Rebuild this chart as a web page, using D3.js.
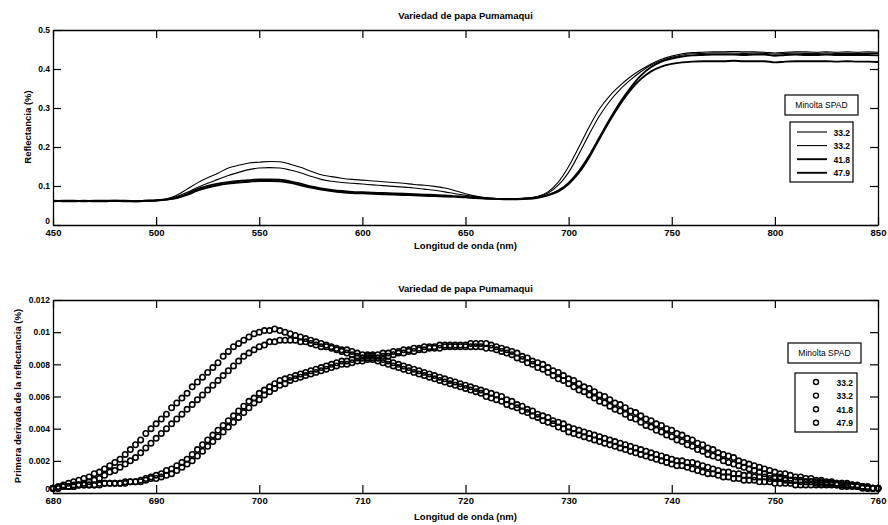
<!DOCTYPE html>
<html>
<head>
<meta charset="utf-8">
<script src="https://cdn.jsdelivr.net/npm/d3@7"></script>
<style>
  body { margin: 0; background: #fff; }
  text { font-family: "Liberation Sans", Arial, sans-serif; fill: #000; }
</style>
</head>
<body>
<svg id="chart" width="888" height="525"></svg>
<script>
// ---------- data ----------
const chartTitle = "Variedad de papa Pumamaqui";
const legendTitle = "Minolta SPAD";
const spadLabels = ["33.2", "33.2", "41.8", "47.9"];

// Reflectance spectra, 450–850 nm every 5 nm
const reflWavelengths = d3.range(450, 851, 5);
const refl332a = [
  0.062,0.061,0.062,0.061,0.061,0.062,0.061,0.062,0.062,0.063,
  0.064,0.067,0.076,0.092,0.108,0.121,0.133,0.146,0.153,0.159,
  0.161,0.163,0.162,0.156,0.148,0.138,0.129,0.124,0.120,0.117,
  0.115,0.113,0.111,0.109,0.107,0.104,0.102,0.099,0.095,0.088,
  0.080,0.074,0.070,0.068,0.067,0.067,0.069,0.073,0.085,0.110,
  0.150,0.200,0.252,0.298,0.332,0.358,0.380,0.398,0.413,0.425,
  0.433,0.439,0.442,0.443,
  0.444,0.444,0.445,0.444,0.444,0.443,0.441,0.443,0.444,0.444,0.443,0.444,0.443,0.444,0.443,0.444,0.443
];
const refl332b = [
  0.062,0.062,0.061,0.062,0.062,0.061,0.062,0.061,0.062,0.062,
  0.063,0.066,0.073,0.084,0.096,0.107,0.117,0.127,0.135,0.142,
  0.146,0.147,0.146,0.141,0.134,0.125,0.117,0.112,0.109,0.107,
  0.105,0.103,0.101,0.099,0.097,0.095,0.092,0.089,0.085,0.080,
  0.076,0.073,0.070,0.068,0.067,0.067,0.069,0.073,0.082,0.102,
  0.135,0.182,0.233,0.280,0.318,0.348,0.372,0.393,0.410,0.422,
  0.430,0.436,0.439,0.440,
  0.441,0.441,0.441,0.440,0.441,0.440,0.438,0.440,0.441,0.440,0.440,0.441,0.440,0.440,0.440,0.440,0.440
];
const refl418 = [
  0.061,0.062,0.062,0.061,0.062,0.062,0.062,0.061,0.061,0.062,
  0.063,0.065,0.070,0.080,0.092,0.100,0.106,0.110,0.113,0.115,
  0.117,0.117,0.116,0.112,0.106,0.099,0.094,0.090,0.087,0.085,
  0.084,0.083,0.082,0.081,0.080,0.079,0.078,0.077,0.076,0.074,
  0.072,0.070,0.068,0.067,0.067,0.067,0.068,0.071,0.077,0.088,
  0.108,0.138,0.178,0.225,0.272,0.315,0.352,0.383,0.405,0.419,
  0.427,0.432,0.435,0.436,
  0.437,0.437,0.437,0.436,0.437,0.437,0.434,0.436,0.437,0.436,0.436,0.437,0.436,0.436,0.436,0.436,0.435
];
const refl479 = [
  0.062,0.061,0.061,0.062,0.061,0.061,0.062,0.062,0.061,0.062,
  0.063,0.065,0.069,0.077,0.088,0.096,0.102,0.106,0.109,0.111,
  0.113,0.113,0.112,0.108,0.102,0.096,0.091,0.087,0.084,0.082,
  0.081,0.080,0.079,0.078,0.077,0.076,0.075,0.074,0.073,0.072,
  0.071,0.069,0.068,0.067,0.066,0.066,0.067,0.070,0.076,0.086,
  0.105,0.134,0.174,0.222,0.268,0.310,0.346,0.374,0.394,0.406,
  0.413,0.417,0.419,0.420,
  0.420,0.420,0.421,0.420,0.420,0.420,0.417,0.419,0.420,0.420,0.420,0.420,0.419,0.420,0.419,0.419,0.418
];

// First derivative of reflectance, 680–760 nm every 0.5 nm
const derivWavelengths = d3.range(680, 760.01, 0.5);
const deriv332a = [
  0.0003,0.0004,0.0005,0.0006,0.0007,0.0008,0.0009,0.0010,0.0012,0.0013,
  0.0015,0.0017,0.0019,0.0021,0.0024,0.0027,0.0030,0.0033,0.0037,0.0040,
  0.0043,0.0046,0.0049,0.0053,0.0056,0.0059,0.0062,0.0066,0.0069,0.0072,
  0.0075,0.0078,0.0081,0.0085,0.0088,0.0091,0.0093,0.0095,0.0097,0.0099,
  0.0100,0.0101,0.0101,0.0102,0.0101,0.0100,0.0099,0.0098,0.0097,0.0096,
  0.0095,0.0094,0.0093,0.0092,0.0091,0.0090,0.0089,0.0089,0.0088,0.0087,
  0.0086,0.0086,0.0085,0.0084,0.0083,0.0082,0.0081,0.0080,0.0079,0.0078,
  0.0077,0.0076,0.0075,0.0074,0.0073,0.0072,0.0071,0.0070,0.0069,0.0068,
  0.0067,0.0066,0.0065,0.0064,0.0063,0.0062,0.0061,0.0060,0.0058,0.0057,
  0.0055,0.0054,0.0052,0.0051,0.0049,0.0048,0.0047,0.0045,0.0044,0.0043,
  0.0041,0.0040,0.0039,0.0038,0.0037,0.0036,0.0035,0.0034,0.0033,0.0032,
  0.0031,0.0030,0.0029,0.0028,0.0027,0.0026,0.0025,0.0024,0.0023,0.0022,
  0.0021,0.0020,0.0020,0.0019,0.0019,0.0018,0.0017,0.0016,0.0015,0.0014,
  0.0013,0.0013,0.0012,0.0012,0.0011,0.0011,0.0010,0.0010,0.0010,0.0009,
  0.0009,0.0009,0.0008,0.0008,0.0008,0.0008,0.0007,0.0007,0.0007,0.0007,
  0.0006,0.0006,0.0006,0.0006,0.0005,0.0005,0.0004,0.0004,0.0003,0.0003,
  0.0003
];
const deriv332b = [
  0.0003,0.0003,0.0004,0.0004,0.0005,0.0005,0.0006,0.0007,0.0008,0.0009,
  0.0011,0.0013,0.0014,0.0016,0.0018,0.0020,0.0022,0.0025,0.0028,0.0031,
  0.0034,0.0037,0.0040,0.0043,0.0046,0.0049,0.0052,0.0055,0.0058,0.0061,
  0.0064,0.0067,0.0070,0.0073,0.0076,0.0079,0.0082,0.0085,0.0087,0.0089,
  0.0091,0.0092,0.0094,0.0094,0.0095,0.0095,0.0095,0.0095,0.0094,0.0094,
  0.0093,0.0092,0.0091,0.0091,0.0090,0.0089,0.0088,0.0087,0.0086,0.0085,
  0.0084,0.0084,0.0083,0.0082,0.0081,0.0080,0.0079,0.0078,0.0077,0.0076,
  0.0075,0.0074,0.0073,0.0072,0.0071,0.0070,0.0069,0.0068,0.0067,0.0066,
  0.0065,0.0064,0.0063,0.0062,0.0060,0.0059,0.0058,0.0057,0.0055,0.0054,
  0.0053,0.0051,0.0050,0.0048,0.0047,0.0045,0.0044,0.0043,0.0041,0.0040,
  0.0038,0.0037,0.0036,0.0035,0.0034,0.0033,0.0032,0.0031,0.0030,0.0029,
  0.0028,0.0027,0.0026,0.0025,0.0024,0.0023,0.0022,0.0021,0.0020,0.0019,
  0.0018,0.0017,0.0017,0.0016,0.0015,0.0014,0.0013,0.0012,0.0012,0.0011,
  0.0010,0.0010,0.0009,0.0009,0.0008,0.0008,0.0008,0.0007,0.0007,0.0007,
  0.0006,0.0006,0.0006,0.0006,0.0005,0.0005,0.0005,0.0005,0.0005,0.0005,
  0.0005,0.0005,0.0005,0.0004,0.0004,0.0004,0.0004,0.0003,0.0003,0.0003,
  0.0003
];
const deriv418 = [
  0.0003,0.0003,0.0004,0.0004,0.0004,0.0005,0.0005,0.0005,0.0005,0.0006,
  0.0006,0.0006,0.0006,0.0006,0.0007,0.0007,0.0007,0.0008,0.0009,0.0010,
  0.0011,0.0012,0.0014,0.0015,0.0017,0.0019,0.0021,0.0024,0.0027,0.0030,
  0.0033,0.0036,0.0039,0.0042,0.0045,0.0048,0.0051,0.0054,0.0057,0.0059,
  0.0062,0.0064,0.0066,0.0068,0.0070,0.0071,0.0072,0.0073,0.0074,0.0075,
  0.0076,0.0077,0.0078,0.0079,0.0080,0.0081,0.0082,0.0082,0.0083,0.0084,
  0.0084,0.0085,0.0086,0.0086,0.0087,0.0087,0.0088,0.0088,0.0089,0.0089,
  0.0090,0.0090,0.0091,0.0091,0.0091,0.0092,0.0092,0.0092,0.0092,0.0092,
  0.0092,0.0093,0.0093,0.0093,0.0093,0.0092,0.0091,0.0090,0.0089,0.0088,
  0.0087,0.0085,0.0084,0.0082,0.0081,0.0080,0.0078,0.0076,0.0075,0.0073,
  0.0071,0.0070,0.0068,0.0066,0.0065,0.0063,0.0061,0.0060,0.0058,0.0056,
  0.0055,0.0053,0.0051,0.0050,0.0048,0.0046,0.0045,0.0043,0.0042,0.0040,
  0.0039,0.0037,0.0036,0.0034,0.0033,0.0031,0.0030,0.0028,0.0027,0.0025,
  0.0024,0.0023,0.0022,0.0020,0.0019,0.0018,0.0017,0.0016,0.0015,0.0014,
  0.0013,0.0012,0.0012,0.0011,0.0010,0.0010,0.0009,0.0009,0.0008,0.0008,
  0.0007,0.0007,0.0006,0.0006,0.0006,0.0005,0.0005,0.0004,0.0004,0.0003,
  0.0003
];
const deriv479 = [
  0.0003,0.0003,0.0004,0.0004,0.0004,0.0005,0.0005,0.0005,0.0005,0.0005,
  0.0006,0.0006,0.0006,0.0006,0.0006,0.0007,0.0007,0.0007,0.0008,0.0009,
  0.0009,0.0010,0.0011,0.0012,0.0014,0.0016,0.0018,0.0020,0.0023,0.0026,
  0.0029,0.0032,0.0035,0.0038,0.0041,0.0044,0.0047,0.0050,0.0053,0.0056,
  0.0058,0.0061,0.0063,0.0065,0.0067,0.0068,0.0070,0.0071,0.0072,0.0073,
  0.0074,0.0075,0.0076,0.0077,0.0078,0.0079,0.0080,0.0080,0.0081,0.0082,
  0.0082,0.0083,0.0084,0.0084,0.0085,0.0085,0.0086,0.0087,0.0087,0.0088,
  0.0088,0.0089,0.0089,0.0090,0.0090,0.0090,0.0091,0.0091,0.0091,0.0091,
  0.0091,0.0091,0.0091,0.0091,0.0090,0.0090,0.0089,0.0088,0.0087,0.0086,
  0.0084,0.0083,0.0081,0.0080,0.0078,0.0077,0.0075,0.0073,0.0071,0.0070,
  0.0068,0.0066,0.0064,0.0063,0.0061,0.0059,0.0057,0.0056,0.0054,0.0052,
  0.0051,0.0049,0.0047,0.0046,0.0044,0.0042,0.0041,0.0039,0.0038,0.0036,
  0.0035,0.0033,0.0032,0.0030,0.0029,0.0027,0.0026,0.0024,0.0023,0.0022,
  0.0020,0.0019,0.0018,0.0017,0.0016,0.0015,0.0014,0.0013,0.0012,0.0011,
  0.0010,0.0010,0.0009,0.0008,0.0008,0.0007,0.0007,0.0007,0.0006,0.0006,
  0.0006,0.0006,0.0005,0.0005,0.0005,0.0005,0.0004,0.0004,0.0003,0.0003,
  0.0003
];

const reflTicksX = [450, 500, 550, 600, 650, 700, 750, 800, 850];
const reflTicksY = [0, 0.1, 0.2, 0.3, 0.4, 0.5];
const derivTicksX = [680, 690, 700, 710, 720, 730, 740, 750, 760];
const derivTicksY = [0, 0.002, 0.004, 0.006, 0.008, 0.01, 0.012];

const reflSeries = [refl332a, refl332b, refl418, refl479];
const derivSeries = [deriv332a, deriv332b, deriv418, deriv479];
const lineWidths = [1.1, 1.1, 1.9, 1.9];

// ---------- drawing ----------
const svg = d3.select("#chart");

const xTop = d3.scaleLinear().domain([450, 850]).range([53, 878]);
const yTop = d3.scaleLinear().domain([0, 0.5]).range([225, 30]);
const xBot = d3.scaleLinear().domain([680, 760]).range([53, 878]);
const yBot = d3.scaleLinear().domain([0, 0.012]).range([493, 300]);

function styleAxis(g, fontSize) {
  g.selectAll("path.domain").attr("stroke", "#000").attr("stroke-width", 1.3);
  g.selectAll(".tick line").attr("stroke", "#000").attr("stroke-width", 1.2);
  g.selectAll(".tick text")
    .attr("font-family", "Liberation Sans, Arial, sans-serif")
    .attr("font-weight", "bold")
    .attr("font-size", fontSize);
}

// Boxed axes with inward ticks on all four sides
function drawFrame(x, y, xTicks, yTicks, yFmt) {
  const [x0, x1] = x.range();
  const [yb, yt] = y.range();
  const g = svg.append("g");
  g.append("g").attr("transform", `translate(0,${yb})`)
    .call(d3.axisBottom(x).tickValues(xTicks).tickSizeInner(-8).tickSizeOuter(0)
      .tickPadding(4).tickFormat(d3.format("d")))
    .call(a => styleAxis(a, 9.5));
  g.append("g").attr("transform", `translate(0,${yt})`)
    .call(d3.axisTop(x).tickValues(xTicks).tickSizeInner(-8).tickSizeOuter(0).tickFormat(""))
    .call(a => styleAxis(a, 9));
  const left = g.append("g").attr("transform", `translate(${x0},0)`)
    .call(d3.axisLeft(y).tickValues(yTicks).tickSizeInner(-8).tickSizeOuter(0)
      .tickPadding(3).tickFormat(yFmt))
    .call(a => styleAxis(a, 8.5));
  // the zero label sits just above the corner, clear of the first x label
  left.selectAll(".tick text").filter(d => d === 0).attr("y", -4);
  g.append("g").attr("transform", `translate(${x1},0)`)
    .call(d3.axisRight(y).tickValues(yTicks).tickSizeInner(-8).tickSizeOuter(0).tickFormat(""))
    .call(a => styleAxis(a, 9));
}

function label(txt, x, y, size, opts = {}) {
  const t = svg.append("text")
    .attr("x", x).attr("y", y)
    .attr("text-anchor", opts.anchor || "middle")
    .attr("font-size", size)
    .attr("font-weight", opts.weight || "bold")
    .text(txt);
  if (opts.rotate) t.attr("transform", `rotate(-90,${x},${y})`);
  return t;
}

// ---- upper panel: reflectance spectra ----
drawFrame(xTop, yTop, reflTicksX, reflTicksY, d3.format("~g"));

const reflLine = d3.line()
  .x((d, i) => xTop(reflWavelengths[i]))
  .y(d => yTop(d))
  .curve(d3.curveMonotoneX);

svg.append("g").selectAll("path")
  .data(reflSeries)
  .join("path")
  .attr("d", reflLine)
  .attr("fill", "none")
  .attr("stroke", "#000")
  .attr("stroke-width", (d, i) => lineWidths[i])
  .attr("stroke-linejoin", "round");

label(chartTitle, 465.5, 19, 9.5);
label("Longitud de onda (nm)", 465.5, 249, 9.5);
label("Reflectancia (%)", 31, 127, 9.5, { rotate: true });

// ---- lower panel: first derivative ----
drawFrame(xBot, yBot, derivTicksX, derivTicksY, d3.format("~g"));

const derivG = svg.append("g");
derivSeries.forEach((series) => {
  derivG.append("g").selectAll("circle")
    .data(series)
    .join("circle")
    .attr("cx", (d, i) => xBot(derivWavelengths[i]))
    .attr("cy", d => yBot(d))
    .attr("r", 2.7)
    .attr("fill", "none")
    .attr("stroke", "#000")
    .attr("stroke-width", 1.6);
});

label(chartTitle, 465.5, 292, 9.5);
label("Longitud de onda (nm)", 465.5, 520, 9.5);
label("Primera derivada de la reflectancia (%)", 21, 396, 9.5, { rotate: true });

// ---- legends ----
function legendTitleBox(x, y, w, h) {
  svg.append("rect").attr("x", x).attr("y", y).attr("width", w).attr("height", h)
    .attr("fill", "#fff").attr("stroke", "#000").attr("stroke-width", 1.2);
  svg.append("text").attr("x", x + w / 2).attr("y", y + h / 2 + 3)
    .attr("text-anchor", "middle").attr("font-size", 8.5).text(legendTitle);
}

// upper legend (line samples)
legendTitleBox(785, 95, 73, 20);
svg.append("rect").attr("x", 790).attr("y", 122).attr("width", 63).attr("height", 60)
  .attr("fill", "#fff").attr("stroke", "#000").attr("stroke-width", 1.2);
const topLeg = svg.append("g").selectAll("g").data(spadLabels).join("g")
  .attr("transform", (d, i) => `translate(0,${132 + i * 13.6})`);
topLeg.append("line").attr("x1", 797).attr("x2", 827).attr("y1", 0).attr("y2", 0)
  .attr("stroke", "#000").attr("stroke-width", (d, i) => lineWidths[i]);
topLeg.append("text").attr("x", 850).attr("y", 3.5).attr("text-anchor", "end")
  .attr("font-size", 8.5).attr("font-weight", "bold").text(d => d);

// lower legend (marker samples)
legendTitleBox(788, 343, 73, 20);
svg.append("rect").attr("x", 795).attr("y", 373).attr("width", 62).attr("height", 59)
  .attr("fill", "#fff").attr("stroke", "#000").attr("stroke-width", 1.2);
const botLeg = svg.append("g").selectAll("g").data(spadLabels).join("g")
  .attr("transform", (d, i) => `translate(0,${382 + i * 13.6})`);
botLeg.append("circle").attr("cx", 816).attr("cy", 0).attr("r", 2.5)
  .attr("fill", "none").attr("stroke", "#000").attr("stroke-width", 1.4);
botLeg.append("text").attr("x", 853).attr("y", 3.5).attr("text-anchor", "end")
  .attr("font-size", 8.5).attr("font-weight", "bold").text(d => d);
</script>
</body>
</html>
